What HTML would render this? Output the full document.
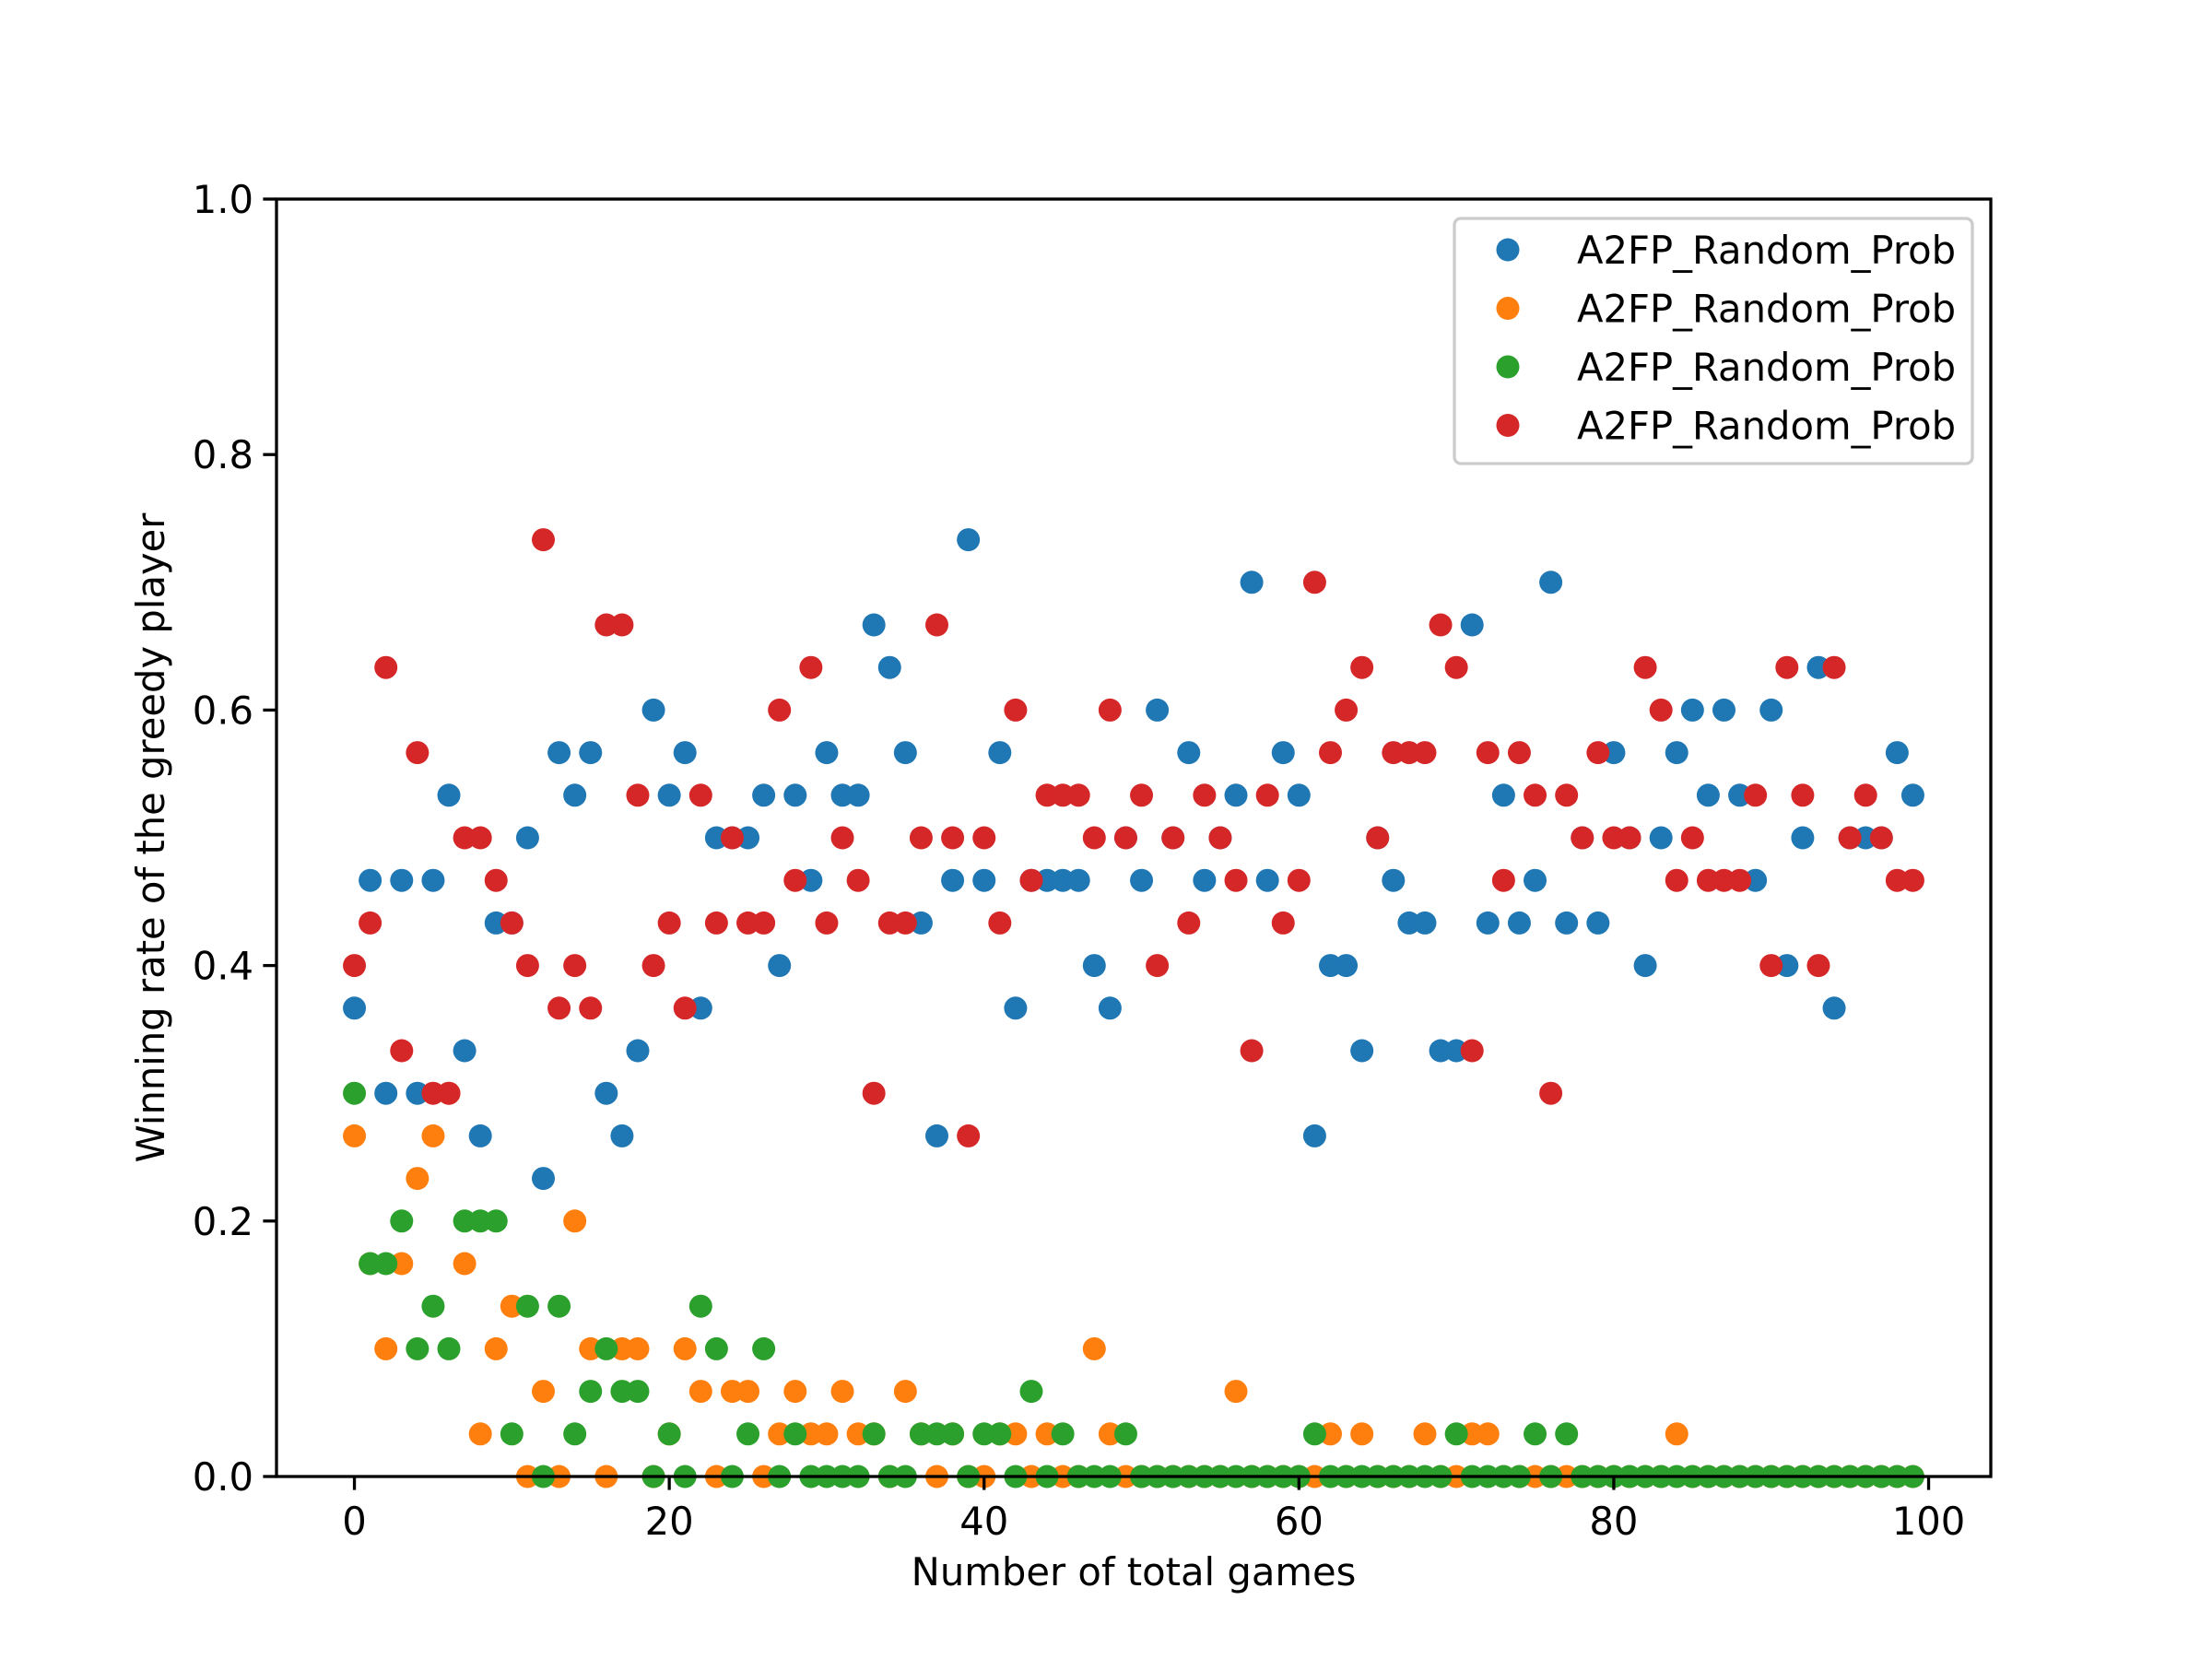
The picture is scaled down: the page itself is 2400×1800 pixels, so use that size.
<!DOCTYPE html>
<html><head><meta charset="utf-8"><style>html,body{margin:0;padding:0;background:#fff}svg{display:block}text{font-family:"DejaVu Sans","Liberation Sans",sans-serif}</style></head>
<body>
<svg id="chart" width="2400" height="1800" viewBox="0 0 2400 1800" xmlns="http://www.w3.org/2000/svg">
<rect x="0" y="0" width="2400" height="1800" fill="#fff"/>
<g id="marks"></g>
<rect x="300" y="216" width="1860" height="1386" fill="none" stroke="#000" stroke-width="3.3"/>
<g id="axes"></g>
<text x="1230" y="1720" font-size="41.7" text-anchor="middle">Number of total games</text>
<text x="0" y="0" font-size="41.7" text-anchor="middle" transform="translate(178,909) rotate(-90)">Winning rate of the greedy player</text>
<g id="legend"></g>
</svg>
<script>
const blueK = [11,14,9,14,9,14,16,10,8,13,13,15,7,17,16,17,9,8,10,18,16,17,11,15,15,15,16,12,16,14,17,16,16,20,19,17,13,8,14,22,14,17,11,14,14,14,14,12,11,15,14,18,15,17,14,15,16,21,14,17,16,8,12,12,10,15,14,13,13,10,10,20,13,16,13,14,21,13,15,13,17,15,12,15,17,18,16,18,16,14,18,12,15,19,11,15,15,15,17,16];
const orangeK = [8,5,3,5,7,8,9,5,1,3,4,0,2,0,6,3,0,3,3,0,1,3,2,0,2,2,0,1,2,1,1,2,1,1,0,2,1,0,1,0,0,1,1,0,1,0,0,3,1,0,0,0,0,0,0,0,2,0,0,0,0,0,1,0,1,0,0,0,1,0,0,1,1,0,0,0,0,0,0,0,0,0,0,0,1,0,0,0,0,0,0,0,0,0,0,0,0,0,0,0];
const greenK = [9,5,5,6,3,4,3,6,6,6,1,4,0,4,1,2,3,2,2,0,1,0,4,3,0,1,3,0,1,0,0,0,0,1,0,0,1,1,1,0,1,1,0,2,0,1,0,0,0,1,0,0,0,0,0,0,0,0,0,0,0,1,0,0,0,0,0,0,0,0,1,0,0,0,0,1,0,1,0,0,0,0,0,0,0,0,0,0,0,0,0,0,0,0,0,0,0,0,0,0];
const redK = [12,13,19,10,17,9,9,15,15,14,13,12,22,11,12,11,20,20,16,12,13,11,16,13,15,13,13,18,14,19,13,15,14,9,13,13,15,20,15,8,15,13,18,14,16,16,16,15,18,15,16,12,15,13,16,15,14,10,16,13,14,21,17,18,19,15,17,17,17,20,19,10,17,14,17,16,9,16,15,17,15,15,19,18,14,15,14,14,14,16,12,19,16,12,19,15,16,15,14,14];
const xTicks = [0,20,40,60,80,100];
const yTicks = [0,0.2,0.4,0.6,0.8,1.0];
const yTickLabels = ["0.0","0.2","0.4","0.6","0.8","1.0"];
const seriesLabels = ["A2FP_Random_Prob","A2FP_Random_Prob","A2FP_Random_Prob","A2FP_Random_Prob"];
const colors = ["#1f77b4","#ff7f0e","#2ca02c","#d62728"];
const NS = "http://www.w3.org/2000/svg";
const X0=300,X1=2160,Y0=1602,Y1=216,XMIN=-4.95,XMAX=103.95;
function sx(v){return X0+(v-XMIN)/(XMAX-XMIN)*(X1-X0);}
function sy(v){return Y0-(v-0)/(1-0)*(Y0-Y1);}
const marks=document.getElementById('marks');
const all=[blueK,orangeK,greenK,redK];
const names=['blue','orange','green','red'];
all.forEach((arr,si)=>{
  const g=document.createElementNS(NS,'g');
  
  
  arr.forEach((k,i)=>{
    const c=document.createElementNS(NS,'circle');
    c.setAttribute('cx',sx(i));c.setAttribute('cy',sy(k/30));c.setAttribute('r',12.5);c.setAttribute('fill',colors[si]);
    
    
    g.appendChild(c);
  });
  marks.appendChild(g);
});
const axes=document.getElementById('axes');
xTicks.forEach(t=>{
  const l=document.createElementNS(NS,'line');
  l.setAttribute('x1',sx(t));l.setAttribute('x2',sx(t));l.setAttribute('y1',Y0);l.setAttribute('y2',Y0+14.6);l.setAttribute('stroke','#000');l.setAttribute('stroke-width',3.3);
  
  
  axes.appendChild(l);
  const tx=document.createElementNS(NS,'text');
  tx.setAttribute('x',sx(t));tx.setAttribute('y',1665);tx.setAttribute('font-size',41.7);tx.setAttribute('text-anchor','middle');
  tx.textContent=String(t);
  
  
  axes.appendChild(tx);
});
yTicks.forEach((t,i)=>{
  const l=document.createElementNS(NS,'line');
  l.setAttribute('x1',X0-14.6);l.setAttribute('x2',X0);l.setAttribute('y1',sy(t));l.setAttribute('y2',sy(t));l.setAttribute('stroke','#000');l.setAttribute('stroke-width',3.3);
  
  
  axes.appendChild(l);
  const tx=document.createElementNS(NS,'text');
  tx.setAttribute('x',275);tx.setAttribute('y',sy(t)+15);tx.setAttribute('font-size',41.7);tx.setAttribute('text-anchor','end');
  tx.textContent=yTickLabels[i];
  
  
  axes.appendChild(tx);
});
const leg=document.getElementById('legend');
const box=document.createElementNS(NS,'rect');
box.setAttribute('x',1578);box.setAttribute('y',237);box.setAttribute('width',562);box.setAttribute('height',266);box.setAttribute('rx',7);box.setAttribute('fill','#fff');box.setAttribute('fill-opacity','0.8');box.setAttribute('stroke','#ccc');box.setAttribute('stroke-width',3.3);


leg.appendChild(box);
seriesLabels.forEach((s,i)=>{
  const y=271+i*63.5;
  const c=document.createElementNS(NS,'circle');
  c.setAttribute('cx',1636);c.setAttribute('cy',y);c.setAttribute('r',12.5);c.setAttribute('fill',colors[i]);
  
  
  leg.appendChild(c);
  const tx=document.createElementNS(NS,'text');
  tx.setAttribute('x',1711);tx.setAttribute('y',y+15);tx.setAttribute('font-size',41.7);
  tx.textContent=s;
  
  
  leg.appendChild(tx);
});
</script>
</body></html>
